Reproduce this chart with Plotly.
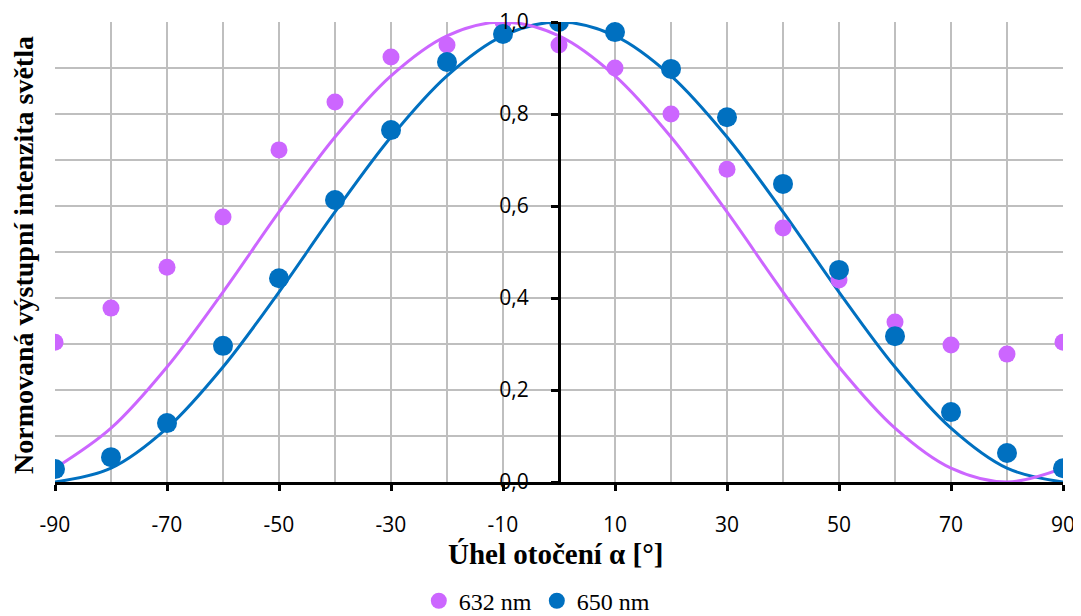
import plotly.graph_objects as go

angles = [-90, -80, -70, -60, -50, -40, -30, -20, -10, 0, 10, 20, 30, 40, 50, 60, 70, 80, 90]

int_632 = [0.304, 0.378, 0.467, 0.576, 0.722, 0.826, 0.924, 0.950, 1.000, 0.950,
           0.900, 0.800, 0.680, 0.552, 0.439, 0.348, 0.298, 0.278, 0.304]
int_650 = [0.028, 0.054, 0.128, 0.296, 0.443, 0.613, 0.765, 0.913, 0.974, 1.000,
           0.978, 0.898, 0.793, 0.648, 0.461, 0.317, 0.152, 0.063, 0.030]

# trend curves
trend_632 = [0.030, 0.117, 0.250, 0.413, 0.587, 0.750, 0.883, 0.970, 1.000, 0.970,
             0.883, 0.750, 0.587, 0.413, 0.250, 0.117, 0.030, 0.000, 0.030]
trend_650 = [0.000, 0.030, 0.117, 0.250, 0.413, 0.587, 0.750, 0.883, 0.970, 1.000,
             0.970, 0.883, 0.750, 0.587, 0.413, 0.250, 0.117, 0.030, 0.000]

x_ticks = [-90, -70, -50, -30, -10, 10, 30, 50, 70, 90]
x_tick_text = ["-90", "-70", "-50", "-30", "-10", "10", "30", "50", "70", "90"]
y_ticks = [0.0, 0.2, 0.4, 0.6, 0.8, 1.0]
y_tick_text = ["0,0", "0,2", "0,4", "0,6", "0,8", "1,0"]

PINK = "#CC66FF"
BLUE = "#0070C0"
SERIF = "Liberation Serif"
SANS = "Open Sans"

fig = go.Figure()
fig.add_trace(go.Scatter(x=angles, y=trend_650, mode="lines", line=dict(color=BLUE, width=3, shape="spline", smoothing=1.0),
                         showlegend=False, hoverinfo="skip"))
fig.add_trace(go.Scatter(x=angles, y=trend_632, mode="lines", line=dict(color=PINK, width=3, shape="spline", smoothing=1.0),
                         showlegend=False, hoverinfo="skip"))
fig.add_trace(go.Scatter(x=angles, y=int_632, mode="markers", name="632 nm",
                         marker=dict(color=PINK, size=17)))
fig.add_trace(go.Scatter(x=angles, y=int_650, mode="markers", name="650 nm",
                         marker=dict(color=BLUE, size=20)))

grid = "#BFBFBF"
fig.update_layout(
    width=1073, height=608,
    margin=dict(l=47, r=18, t=14, b=134, autoexpand=False),
    paper_bgcolor="white", plot_bgcolor="white",
    xaxis=dict(range=[-90, 90], tickvals=x_ticks, ticktext=x_tick_text, ticks="outside", ticklen=6, tickwidth=3,
               tickcolor="black", showline=True, linecolor="black", linewidth=3,
               showgrid=True, gridcolor=grid, gridwidth=1.5, zeroline=False,
               minor=dict(dtick=10, tick0=-90, showgrid=True, gridcolor=grid, gridwidth=1.5),
               tickfont=dict(family=SANS, size=21, color="black"), ticklabelstandoff=16,
               ticklabeloverflow="allow"),
    yaxis=dict(range=[0, 1], tickvals=y_ticks, ticktext=y_tick_text, ticks="outside", ticklen=7,
               tickwidth=3, tickcolor="black", showline=True, linecolor="black", linewidth=3,
               anchor="free", position=0.5, side="left",
               showgrid=True, gridcolor=grid, gridwidth=1.5, zeroline=False,
               minor=dict(dtick=0.1, tick0=0, showgrid=True, gridcolor=grid, gridwidth=1.5),
               tickfont=dict(family=SANS, size=21, color="black"), ticklabelstandoff=18,
               ticklabeloverflow="allow"),
    legend=dict(orientation="h", x=0.478, xanchor="center", y=-0.259, yanchor="middle",
                font=dict(family=SERIF, size=24, color="black")),
    annotations=[
        dict(text="<b>Normovaná výstupní intenzita světla</b>", textangle=-90, xref="paper", yref="paper",
             x=-0.032, y=0.493, xanchor="center", yanchor="middle", showarrow=False,
             font=dict(family=SERIF, size=28, color="black")),
        dict(text="<b>Úhel otočení α [°]</b>", xref="paper", yref="paper",
             x=0.497, y=-0.157, xanchor="center", yanchor="middle", showarrow=False,
             font=dict(family=SERIF, size=29, color="black")),
    ],
)

fig.write_html("out.html")
